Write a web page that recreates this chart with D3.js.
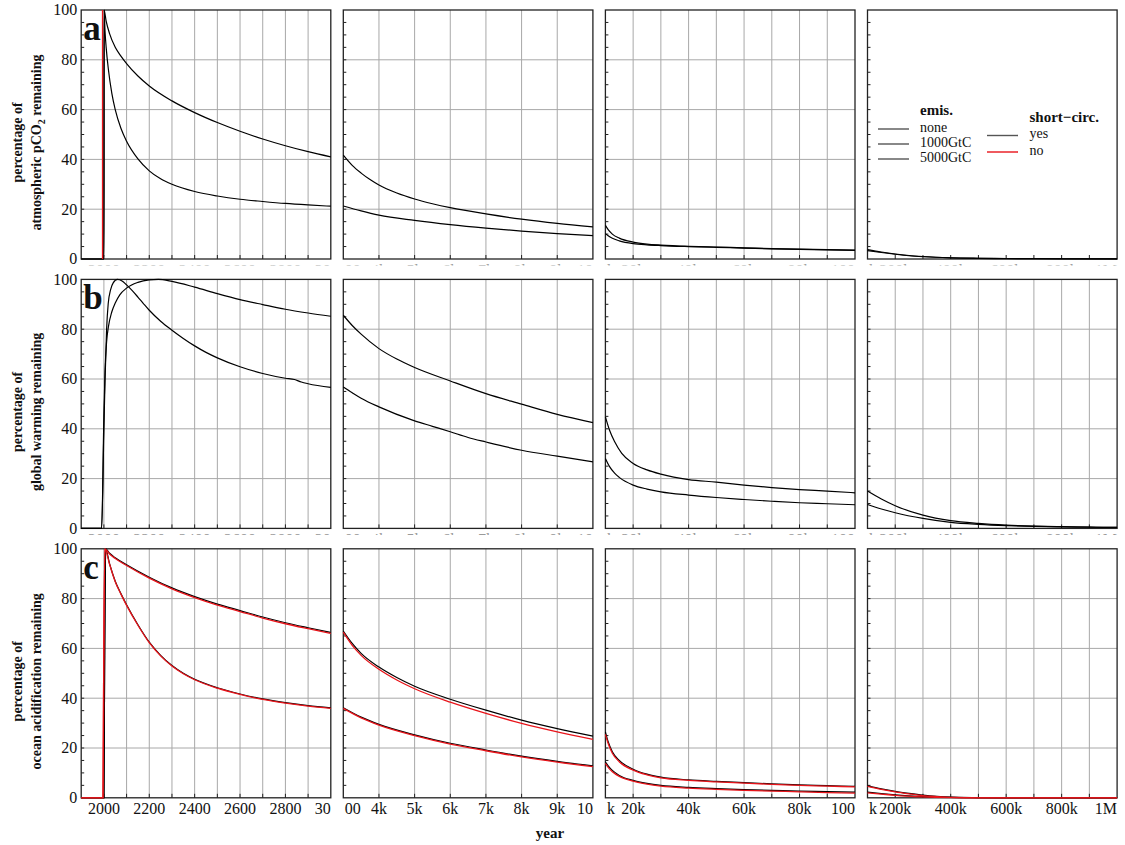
<!DOCTYPE html>
<html><head><meta charset="utf-8">
<script src="https://cdn.jsdelivr.net/npm/d3@7"></script>
<style>
body{margin:0;background:#fff;}
svg text{font-family:"Liberation Serif","Times New Roman",serif;fill:#111;}
</style></head><body>
<svg id="chart" width="1125" height="845"></svg>
<script>
// ---- time windows (one per column) ----
const panelDomains = [[1900, 3000], [3000, 10000], [10000, 100000], [100000, 1000000]];
const gridSteps = [100, 1000, 10000, 100000];
const tickValues = [
  [2000, 2200, 2400, 2600, 2800, 3000],
  [3000, 4000, 5000, 6000, 7000, 8000, 9000, 10000],
  [10000, 20000, 40000, 60000, 80000, 100000],
  [100000, 200000, 400000, 600000, 800000, 1000000]
];
// labels that sit on a column edge are cut by the edge
const tickLabels = [
  ["2000", "2200", "2400", "2600", "2800", "30"],
  ["00", "4k", "5k", "6k", "7k", "8k", "9k", "10"],
  ["k", "20k", "40k", "60k", "80k", "100"],
  ["k", "200k", "400k", "600k", "800k", "1M"]
];
const yTicks = [0, 20, 40, 60, 80, 100];
const rowLetters = ["a", "b", "c"];
const rowTitleTop = ["percentage of", "percentage of", "percentage of"];
const rowTitleBottom = [
  [["atmospheric pCO", false], ["2", true], [" remaining", false]],
  [["global warming remaining", false]],
  [["ocean acidification remaining", false]]
];
const emisLabels = ["none", "1000GtC", "5000GtC"];
const circLabels = ["yes", "no"];

// ---- row a: atmospheric pCO2 remaining (%), one array per time window ----
const co2_5000 = [
  [[1900,0],[2000,0],[2001,100],[2010,95.5],[2025,90.5],[2050,85],[2075,81.5],[2100,78.5],[2150,73.5],[2200,69.5],[2300,63.5],[2400,58.8],[2500,54.8],[2600,51.3],[2700,48.2],[2800,45.5],[2900,43.1],[3000,41]],
  [[3000,41.7],[3250,37.6],[3500,34.5],[3750,31.9],[4000,29.7],[4500,26.5],[5000,24.1],[5500,22.2],[6000,20.6],[7000,18.1],[8000,16],[9000,14.3],[10000,12.9]],
  [[10000,13.5],[11000,11.8],[12500,10],[15000,8.4],[20000,6.8],[25000,6],[30000,5.6],[40000,5.1],[50000,4.8],[60000,4.5],[70000,4.2],[80000,4],[90000,3.8],[100000,3.6]],
  [[100000,3.8],[150000,2.8],[200000,2.0],[250000,1.4],[300000,1.0],[400000,0.5],[500000,0.3],[600000,0.2],[800000,0.1],[1000000,0.05]]
];
const co2_1000 = [
  [[1900,0],[2000,0],[2001,100],[2005,91.5],[2010,85],[2020,76],[2035,66.5],[2050,60],[2075,52.5],[2100,47.3],[2150,40.2],[2200,35.4],[2250,32.2],[2300,30],[2400,27.1],[2500,25.3],[2600,24],[2700,23.1],[2800,22.3],[2900,21.7],[3000,21.2]],
  [[3000,21.3],[3500,19.3],[4000,17.6],[5000,15.5],[6000,13.8],[7000,12.4],[8000,11.2],[9000,10.2],[10000,9.4]],
  [[10000,10.2],[11000,9.3],[12500,8.3],[15000,7.3],[20000,6.2],[25000,5.7],[30000,5.4],[40000,5.0],[50000,4.7],[60000,4.4],[70000,4.1],[80000,3.9],[90000,3.7],[100000,3.5]],
  [[100000,3.4],[150000,2.6],[200000,1.9],[250000,1.3],[300000,0.9],[400000,0.45],[500000,0.25],[600000,0.15],[800000,0.08],[1000000,0.04]]
];
const co2_pulse_nosc = [[[1994,0],[1994,100]], [], [], []];

// ---- row b: global warming remaining (%) ----
const warm_5000 = [
  [[1900,0],[1990,0],[2000,45],[2005,63],[2012,75],[2020,81],[2035,87],[2050,90.5],[2070,93.8],[2100,96.5],[2150,98.8],[2200,99.8],[2240,100],[2300,99.2],[2400,96.9],[2500,94.3],[2600,91.9],[2700,89.9],[2800,88],[2900,86.5],[3000,85.2]],
  [[3000,85.6],[3250,81.5],[3500,78],[4000,72.2],[4500,68],[5000,64.6],[6000,59.2],[7000,54.1],[8000,49.9],[9000,45.8],[10000,42.5]],
  [[10000,44.8],[11500,39.4],[13400,34.7],[15900,30.1],[20000,26.1],[25000,23.5],[30000,21.8],[40000,19.6],[50000,18.6],[60000,17.4],[70000,16.4],[80000,15.6],[90000,15],[100000,14.3]],
  [[100000,15],[150000,11.8],[200000,9.1],[300000,5.3],[400000,3.1],[500000,2.0],[600000,1.3],[700000,0.9],[800000,0.7],[900000,0.5],[1000000,0.4]]
];
const warm_1000 = [
  [[1900,0],[1990,0],[2000,40],[2005,59.5],[2012,80],[2019,90.2],[2030,96],[2041,98.6],[2060,100],[2080,99.4],[2100,97.8],[2125,95.5],[2150,92.9],[2175,90.2],[2200,87.6],[2250,83.2],[2300,79.6],[2350,76.3],[2400,73.3],[2450,70.7],[2500,68.5],[2600,64.9],[2700,62.2],[2800,60.3],[2840,59.8],[2870,58.8],[2900,58.1],[3000,56.6]],
  [[3000,56.8],[3250,54.5],[3500,52.3],[4000,48.8],[5000,43.2],[5500,41],[6000,38.8],[6500,36.5],[7000,34.7],[8000,31.4],[9000,29],[10000,26.7]],
  [[10000,28.1],[11500,24.8],[13400,22.1],[15000,20.5],[20000,17.4],[25000,15.8],[30000,14.7],[40000,13.4],[50000,12.4],[60000,11.6],[70000,10.9],[80000,10.3],[90000,9.9],[100000,9.5]],
  [[100000,9.6],[150000,7.8],[200000,6.3],[300000,4.0],[400000,2.4],[500000,1.6],[600000,1.1],[700000,0.8],[800000,0.6],[900000,0.5],[1000000,0.4]]
];

// ---- row c: ocean acidification remaining (%) ----
const acid_5000 = [
  [[1900,0],[2000,0],[2003,50],[2008,100],[2025,98.2],[2050,96.4],[2100,93.6],[2200,88.6],[2300,84.3],[2400,80.8],[2500,77.8],[2600,75.2],[2700,72.6],[2800,70.3],[2900,68.3],[3000,66.4]],
  [[3000,67],[3250,62],[3500,58],[4000,52.5],[4500,48.3],[5000,44.8],[6000,39.6],[7000,35.2],[8000,31.2],[9000,27.8],[10000,24.8]],
  [[10000,26.5],[11000,22.5],[12500,18.5],[15000,15],[20000,11.5],[25000,9.5],[30000,8.3],[40000,7.2],[50000,6.6],[60000,6.1],[70000,5.6],[80000,5.2],[90000,4.9],[100000,4.6]],
  [[100000,4.8],[150000,3.6],[200000,2.6],[250000,1.8],[300000,1.1],[350000,0.6],[400000,0.3],[500000,0.1],[600000,0],[1000000,0]]
];
const acid_5000_nosc = [
  [[1900,0],[1996,0],[1999,50],[2004,100],[2025,97.9],[2050,96.1],[2100,93.3],[2200,88.2],[2300,83.9],[2400,80.4],[2500,77.4],[2600,74.8],[2700,72.2],[2800,69.9],[2900,67.9],[3000,66.0]],
  [[3000,66.5],[3250,61.2],[3500,57.2],[4000,51.6],[4500,47.3],[5000,43.8],[6000,38.4],[7000,33.9],[8000,29.9],[9000,26.5],[10000,23.5]],
  [[10000,25.5],[11000,21.8],[12500,17.9],[15000,14.5],[20000,11.1],[25000,9.2],[30000,8.0],[40000,7.0],[50000,6.4],[60000,5.9],[70000,5.4],[80000,5.0],[90000,4.7],[100000,4.4]],
  [[100000,4.6],[150000,3.4],[200000,2.4],[250000,1.6],[300000,0.9],[350000,0.5],[400000,0.2],[500000,0],[1000000,0]]
];
const acid_1000 = [
  [[1900,0],[2000,0],[2003,50],[2008,100],[2025,94],[2050,87],[2075,82],[2100,77.5],[2150,69.5],[2200,62.5],[2250,57.2],[2300,53.1],[2350,50],[2400,47.6],[2500,44.2],[2600,41.7],[2700,39.7],[2800,38.2],[2900,37],[3000,36.1]],
  [[3000,36.2],[3500,32.4],[4000,29.5],[5000,25.3],[6000,21.9],[7000,19.2],[8000,16.7],[9000,14.6],[10000,12.8]],
  [[10000,14.5],[11000,12.8],[12500,11],[15000,9],[20000,7],[25000,5.8],[30000,5],[40000,4.2],[50000,3.7],[60000,3.3],[70000,3.0],[80000,2.7],[90000,2.5],[100000,2.3]],
  [[100000,2.3],[150000,1.7],[200000,1.2],[300000,0.5],[400000,0.15],[500000,0],[1000000,0]]
];
const acid_1000_nosc = [
  [[1900,0],[1996,0],[1999,50],[2004,100],[2025,93.8],[2050,86.8],[2075,81.8],[2100,77.3],[2150,69.3],[2200,62.3],[2250,57],[2300,52.9],[2350,49.8],[2400,47.4],[2500,44],[2600,41.5],[2700,39.5],[2800,38],[2900,36.8],[3000,35.9]],
  [[3000,35.9],[3500,32.1],[4000,29.2],[5000,25],[6000,21.6],[7000,18.9],[8000,16.4],[9000,14.3],[10000,12.5]],
  [[10000,13.8],[11000,12.2],[12500,10.5],[15000,8.6],[20000,6.7],[25000,5.5],[30000,4.7],[40000,3.9],[50000,3.4],[60000,3.0],[70000,2.7],[80000,2.4],[90000,2.1],[100000,1.9]],
  [[100000,2.0],[150000,1.5],[200000,1.0],[300000,0.4],[400000,0.1],[500000,0],[1000000,0]]
];

// series per row: short-circuit "yes" in black, "no" in red
const rowSeries = [
  { yes: [co2_5000, co2_1000], no: [co2_pulse_nosc] },
  { yes: [warm_5000, warm_1000], no: [] },
  { yes: [acid_5000, acid_1000], no: [acid_5000_nosc, acid_1000_nosc] }
];

// ---- layout ----
const L = { x0: 81.2, dx: 262.1, w: 249.6, y0: 10, dy: 269.4, h: 249 };
const svg = d3.select("#chart");
const defs = svg.append("defs");
const gridColor = "#a8a8a8";

for (let r = 0; r < 3; r++) {
  const top = L.y0 + r * L.dy, bottom = top + L.h;
  for (let c = 0; c < 4; c++) {
    const left = L.x0 + c * L.dx, right = left + L.w;
    const x = d3.scaleLinear().domain(panelDomains[c]).range([left, right]);
    const y = d3.scaleLinear().domain([0, 100]).range([bottom, top]);
    const g = svg.append("g");
    const step = gridSteps[c];
    const nSteps = Math.round((panelDomains[c][1] - panelDomains[c][0]) / step);
    const gridX = d3.range(1, nSteps).map(i => panelDomains[c][0] + i * step);

    // grid (legend panel stays blank)
    if (!(r === 0 && c === 3)) {
      g.selectAll(".gx").data(gridX).join("line")
        .attr("x1", d => x(d)).attr("x2", d => x(d)).attr("y1", top).attr("y2", bottom)
        .attr("stroke", gridColor).attr("stroke-width", 1);
      g.selectAll(".gy").data(yTicks.slice(1, -1)).join("line")
        .attr("x1", left).attr("x2", right).attr("y1", d => y(d)).attr("y2", d => y(d))
        .attr("stroke", gridColor).attr("stroke-width", 1);
    }
    // small inward ticks
    g.selectAll(".ty").data(d3.range(5, 100, 5)).join("line")
      .attr("x1", left).attr("x2", left + 3).attr("y1", d => y(d)).attr("y2", d => y(d))
      .attr("stroke", "#222").attr("stroke-width", 1);
    g.selectAll(".tx").data(gridX).join("line")
      .attr("x1", d => x(d)).attr("x2", d => x(d)).attr("y1", bottom).attr("y2", bottom - 4)
      .attr("stroke", "#222").attr("stroke-width", 1);

    // frame
    g.append("rect").attr("x", left).attr("y", top).attr("width", L.w).attr("height", L.h)
      .attr("fill", "none").attr("stroke", "#222").attr("stroke-width", 1.3);

    // curves
    const clipId = `clip-${r}-${c}`;
    defs.append("clipPath").attr("id", clipId).append("rect")
      .attr("x", left - 1).attr("y", top - 2).attr("width", L.w + 2).attr("height", L.h + 3);
    const cg = g.append("g").attr("clip-path", `url(#${clipId})`);
    const smooth = d3.line().x(d => x(d[0])).y(d => y(d[1])).curve(d3.curveMonotoneX);
    const straight = d3.line().x(d => x(d[0])).y(d => y(d[1]));
    const pathFor = pts => {
      const dupX = pts.some((p, i) => i > 0 && p[0] === pts[i - 1][0]);
      return (dupX ? straight : smooth)(pts);
    };
    rowSeries[r].yes.forEach(s => {
      if (s[c].length) cg.append("path").attr("d", pathFor(s[c]))
        .attr("fill", "none").attr("stroke", "#000").attr("stroke-width", 1.2);
    });
    rowSeries[r].no.forEach(s => {
      if (s[c].length) cg.append("path").attr("d", pathFor(s[c]))
        .attr("fill", "none").attr("stroke", "#e8141a").attr("stroke-width", 1.3);
    });

    // x tick labels; upper rows only show a thin faint sliver of them
    const faint = r < 2;
    const lclip = `lclip-${r}-${c}`;
    defs.append("clipPath").attr("id", lclip).append("rect")
      .attr("x", 0).attr("width", 1125)
      .attr("y", faint ? bottom + 4.3 : bottom)
      .attr("height", faint ? 2.2 : 40);
    const lg = svg.append("g").attr("clip-path", `url(#${lclip})`);
    const [d0, d1] = panelDomains[c];
    lg.selectAll("text").data(tickValues[c]).join("text")
      .attr("x", d => d === d0 ? left + 1.5 : d === d1 ? right : x(d))
      .attr("y", bottom + 16.5)
      .attr("text-anchor", d => d === d0 ? "start" : d === d1 ? "end" : "middle")
      .attr("font-size", 16)
      .style("fill", faint ? "#9a9a9a" : "#111")
      .text((d, i) => tickLabels[c][i]);

    // y tick labels, panel letter and row title on the first column
    if (c === 0) {
      g.selectAll(".yl").data(yTicks).join("text")
        .attr("x", left - 4).attr("y", d => y(d)).attr("dy", "0.34em")
        .attr("text-anchor", "end").attr("font-size", 16).text(d => d);
      g.append("text").attr("x", left + 2).attr("y", top + 30)
        .attr("font-size", 35).attr("font-weight", "bold").text(rowLetters[r]);
      const cy = (top + bottom) / 2 + 8;
      svg.append("text").attr("transform", `translate(22,${cy}) rotate(-90)`)
        .attr("text-anchor", "middle").attr("font-size", 14).attr("font-weight", "bold")
        .text(rowTitleTop[r]);
      const t2 = svg.append("text").attr("transform", `translate(41,${cy}) rotate(-90)`)
        .attr("text-anchor", "middle").attr("font-size", 14).attr("font-weight", "bold");
      rowTitleBottom[r].forEach(([txt, sub]) => {
        const ts = t2.append("tspan").text(txt);
        if (sub) ts.attr("font-size", 10).attr("dy", "0.35em");
        else if (txt.startsWith(" ")) ts.attr("dy", "-0.25em");
      });
    }
  }
}

// legend inside the top-right panel
const lx = L.x0 + 3 * L.dx, ly = L.y0;
const leg = svg.append("g");
leg.append("text").attr("x", lx + 52.5).attr("y", ly + 105).attr("font-size", 15)
  .attr("font-weight", "bold").text("emis.");
emisLabels.forEach((t, i) => {
  const yy = ly + 119 + i * 15;
  leg.append("line").attr("x1", lx + 10.5).attr("x2", lx + 41.5).attr("y1", yy).attr("y2", yy)
    .attr("stroke", "#555").attr("stroke-width", 1.4);
  leg.append("text").attr("x", lx + 52.5).attr("y", yy + 3).attr("font-size", 14).text(t);
});
leg.append("text").attr("x", lx + 162).attr("y", ly + 112).attr("font-size", 15)
  .attr("font-weight", "bold").text("short\u2212circ.");
circLabels.forEach((t, i) => {
  const yy = ly + 125.5 + i * 16.5;
  leg.append("line").attr("x1", lx + 119.5).attr("x2", lx + 150.5).attr("y1", yy).attr("y2", yy)
    .attr("stroke", i === 0 ? "#555" : "#e8141a").attr("stroke-width", 1.4);
  leg.append("text").attr("x", lx + 162).attr("y", yy + 2.5).attr("font-size", 14).text(t);
});

// shared x-axis title
svg.append("text").attr("x", 550).attr("y", 838).attr("text-anchor", "middle")
  .attr("font-size", 15).attr("font-weight", "bold").text("year");
</script></body></html>
